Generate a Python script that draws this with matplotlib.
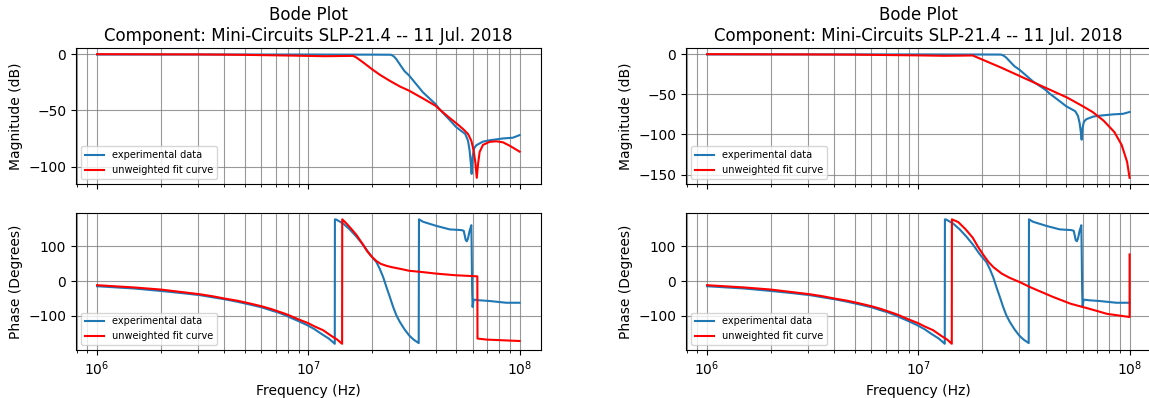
import numpy as np
import matplotlib
matplotlib.use("Agg")
import matplotlib.pyplot as plt

# experimental data (same measurement in both columns)
freq_exp_mag = [1e6, 2e6, 5e6, 1e7, 1.5e7, 2.0e7, 2.43e7, 2.47e7, 2.54e7, 2.61e7, 2.71e7,
                2.85e7, 3.0e7, 3.49e7, 4.0e7, 4.18e7, 4.67e7, 5.02e7, 5.53e7, 5.7e7,
                5.8e7, 5.88e7, 5.93e7, 5.99e7, 6.08e7, 6.24e7, 6.71e7, 7.21e7, 8.34e7,
                9.3e7, 1e8]
mag_exp = [-0.3, -0.3, -0.3, -0.3, -0.4, -0.4, -0.5, -0.6, -2, -4.4, -9,
           -15, -19, -34, -44.4, -49, -58.6, -65, -71, -77,
           -85.8, -97.6, -106.5, -91.7, -84, -81, -77.8, -76.6, -75,
           -74.3, -72]

freq_exp_ph = [1e6, 1.5e6, 2e6, 2.5e6, 3.06e6, 3.5e6, 4.02e6, 4.6e6, 5.28e6, 6e6, 6.67e6,
               7.2e6, 7.79e6, 8.17e6, 9e6, 9.92e6, 1.07e7, 1.15e7, 1.25e7, 1.334e7,
               1.336e7, 1.358e7, 1.46e7, 1.57e7, 1.69e7, 1.82e7, 1.94e7, 2.0e7, 2.1e7,
               2.18e7, 2.26e7, 2.34e7, 2.43e7, 2.52e7, 2.61e7, 2.71e7, 2.85e7, 3.0e7,
               3.15e7, 3.33e7, 3.34e7, 3.49e7, 4.04e7, 4.67e7, 5.3e7, 5.44e7, 5.56e7,
               5.63e7, 5.7e7, 5.8e7, 5.91e7, 5.93e7, 5.96e7, 5.99e7, 6.06e7, 6.47e7,
               7.21e7, 8.65e7, 1e8]
phase_exp = [-14.5, -21, -28, -34, -40, -46, -52, -59, -67, -75, -84,
             -90, -98, -104, -115, -127, -138, -151, -165, -180,
             178, 177, 166, 149, 128, 104, 80, 70, 55,
             35, 12, -16, -45, -74, -98, -117, -138, -156,
             -168, -178, 178, 171, 159, 149, 147, 145, 118,
             115, 123, 145, 161, 100, -20, -74, -53, -55,
             -57, -62, -62]

# unweighted fit, left column
freq_fit1_mag = [1e6, 3e6, 5e6, 8e6, 1.2e7, 1.63e7, 1.69e7, 1.82e7, 2.0e7, 2.18e7, 2.43e7,
                 2.71e7, 3.0e7, 3.49e7, 4.0e7, 4.34e7, 4.67e7, 5.02e7, 5.4e7, 5.7e7,
                 5.91e7, 6.06e7, 6.17e7, 6.27e7, 6.36e7, 6.47e7, 6.71e7, 7.21e7, 7.75e7,
                 8.34e7, 8.97e7, 1e8]
mag_fit1 = [0, -0.2, -0.6, -1.2, -1.8, -1.5, -3, -7.4, -13.3, -18.3, -23.7,
            -28.7, -32.5, -39.4, -45.9, -51.8, -56.8, -61.5, -66.6, -71,
            -77, -85.8, -96, -110, -97.6, -87, -80.7, -78, -77.5,
            -78.4, -81.4, -86.7]

freq_fit1_ph = [1e6, 1.5e6, 2e6, 2.5e6, 3.06e6, 3.5e6, 4.02e6, 4.6e6, 5.28e6, 6e6, 6.67e6,
                7.79e6, 8.17e6, 9e6, 9.92e6, 1.07e7, 1.175e7, 1.29e7, 1.37e7, 1.445e7,
                1.447e7, 1.515e7, 1.6e7, 1.69e7, 1.82e7, 1.9e7, 2.0e7, 2.1e7, 2.2e7,
                2.35e7, 2.5e7, 2.75e7, 3.0e7, 3.5e7, 4.0e7, 5.0e7, 6.31e7, 6.32e7, 7.0e7, 1e8]
phase_fit1 = [-11.5, -18, -24, -31, -37.5, -43, -50, -56, -64, -72, -80,
              -94, -99, -110, -120, -130, -141, -158, -168, -180,
              178, 166, 150, 133, 104, 86, 70, 58, 50,
              44, 40, 35, 30, 26, 22, 17, 14, -165, -168, -172]

# unweighted fit, right column
freq_fit2_mag = [1e6, 3e6, 5e6, 1e7, 1.317e7, 1.6e7, 1.807e7, 2.02e7, 2.48e7, 3.03e7,
                 3.99e7, 5.06e7, 5.93e7, 6.68e7, 7.52e7, 8.47e7, 9.17e7, 9.73e7, 1e8]
mag_fit2 = [0, -0.3, -0.6, -1.5, -2, -1.8, -1.6, -7, -17, -27.4,
            -41.7, -54, -64, -72, -82.6, -97, -113, -134, -154]

freq_fit2_ph = [1e6, 1.5e6, 2e6, 2.5e6, 3.06e6, 3.5e6, 4.02e6, 4.6e6, 5.28e6, 6e6, 6.67e6,
                7.79e6, 8.17e6, 9e6, 9.92e6, 1.07e7, 1.175e7, 1.29e7, 1.37e7, 1.44e7,
                1.442e7, 1.545e7, 1.67e7, 1.81e7, 1.92e7, 2.04e7, 2.15e7, 2.27e7, 2.48e7,
                2.7e7, 3.03e7, 3.41e7, 4.33e7, 5.27e7, 6.42e7, 7.83e7, 1e8, 1.0001e8]
phase_fit2 = [-11.5, -18, -24, -31, -37.5, -43, -50, -56, -64, -72, -80,
              -94, -99, -110, -120, -130, -141, -158, -168, -180,
              178, 170, 150, 125, 98, 74, 55, 40, 22,
              10, -3, -18, -45, -65, -79, -94, -103, 77]

title = "Bode Plot\nComponent: Mini-Circuits SLP-21.4 -- 11 Jul. 2018"

fig = plt.figure(figsize=(11.49, 3.98), dpi=100)

columns = [(0.0661, freq_fit1_mag, mag_fit1, freq_fit1_ph, phase_fit1),
           (0.597, freq_fit2_mag, mag_fit2, freq_fit2_ph, phase_fit2)]

for left, fm, mf, fp, pf in columns:
    ax1 = fig.add_axes([left, 0.5377, 0.4045, 0.3417])
    ax2 = fig.add_axes([left, 0.1206, 0.4045, 0.344], sharex=ax1)

    ax1.semilogx(freq_exp_mag, mag_exp, color="#1f77b4", lw=1.5, label="experimental data")
    ax1.semilogx(fm, mf, color="red", lw=1.5, label="unweighted fit curve")
    ax1.set_ylabel("Magnitude (dB)")
    ax1.set_title(title, pad=5)
    ax1.legend(loc="lower left", fontsize=7)
    ax1.grid(True, which="both", color="gray", linewidth=0.8, alpha=0.8)
    plt.setp(ax1.get_xticklabels(), visible=False)

    ax2.semilogx(freq_exp_ph, phase_exp, color="#1f77b4", lw=1.5, label="experimental data")
    ax2.semilogx(fp, pf, color="red", lw=1.5, label="unweighted fit curve")
    ax2.set_ylabel("Phase (Degrees)")
    ax2.set_xlabel("Frequency (Hz)")
    ax2.legend(loc="lower left", fontsize=7)
    ax2.grid(True, which="both", color="gray", linewidth=0.8, alpha=0.8)

plt.savefig("out.png", dpi=100)
